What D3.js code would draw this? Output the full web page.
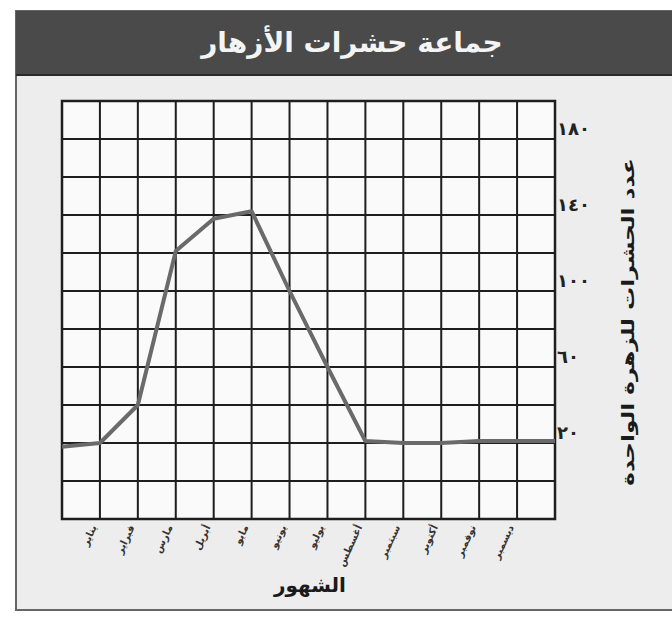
<!DOCTYPE html>
<html><head><meta charset="utf-8">
<script src="https://cdn.jsdelivr.net/npm/d3@7/dist/d3.min.js"></script>
<style>html,body{margin:0;padding:0;background:#fff;}svg{display:block;}</style>
</head><body>
<svg id="c" width="672" height="620"></svg>
<script>
const title = "جماعة حشرات الأزهار";
const yTitle = "عدد الحشرات للزهرة الواحدة";
const xTitle = "الشهور";
const points = [0,1,2,3,4,5,6,7,8,9,10,11,12,13];
const values = [18, 20, 40, 121, 138, 142, 100, 60, 21, 20, 20, 21, 21, 21];
const months = ["يناير","فبراير","مارس","أبريل","مايو","يونيو","يوليو","أغسطس","سبتمبر","أكتوبر","نوفمبر","ديسمبر"];
const yTickValues = [20, 60, 100, 140, 180];
const yTickLabels = ["٢٠","٦٠","١٠٠","١٤٠","١٨٠"];
const gridValues = [-20,0,20,40,60,80,100,120,140,160,180,200];

const svg = d3.select("#c");
const F = "'DejaVu Sans', sans-serif";

// panel
svg.append("rect").attr("x",16).attr("y",11).attr("width",670).attr("height",599)
  .attr("fill","#ededed").attr("stroke","#666").attr("stroke-width",2);
svg.append("rect").attr("x",16).attr("y",11).attr("width",670).attr("height",64)
  .attr("fill","#4a4a4a");
svg.append("line").attr("x1",16).attr("x2",672).attr("y1",75).attr("y2",75)
  .attr("stroke","#2a2a2a").attr("stroke-width",2);
svg.append("text").attr("x",352).attr("y",52).attr("text-anchor","middle")
  .attr("font-family",F).attr("font-weight","bold").attr("font-size",28)
  .attr("fill","#f4f4f4").text(title);

const x = d3.scalePoint().domain(points).range([62,555]);
const y = d3.scaleLinear().domain([-20,200]).range([519,101]);

// grid background
svg.append("rect").attr("x",62).attr("y",101).attr("width",493).attr("height",418).attr("fill","#fafafa");

const g = svg.append("g");
g.selectAll(".v").data(points).join("line")
  .attr("x1",d=>x(d)).attr("x2",d=>x(d)).attr("y1",y(200)).attr("y2",y(-20))
  .attr("stroke","#1e1e1e").attr("stroke-width",2);
g.selectAll(".h").data(gridValues).join("line")
  .attr("x1",x(0)).attr("x2",x(13)).attr("y1",d=>y(d)).attr("y2",d=>y(d))
  .attr("stroke","#1e1e1e").attr("stroke-width",2);
g.append("rect").attr("x",x(0)).attr("y",y(200)).attr("width",x(13)-x(0)).attr("height",y(-20)-y(200))
  .attr("fill","none").attr("stroke","#1e1e1e").attr("stroke-width",2.5);

// data line
const line = d3.line().x((d,i)=>x(points[i])).y(d=>y(d));
svg.append("path").datum(values).attr("d",line).attr("fill","none")
  .attr("stroke","#6a6a6a").attr("stroke-width",4).attr("stroke-linejoin","round");

// y tick labels
svg.selectAll(".yl").data(yTickValues).join("text")
  .attr("x",557).attr("y",d=>y(d)).attr("dy",-4)
  .attr("font-family",F).attr("font-weight","bold").attr("font-size",18).attr("fill","#222")
  .attr("letter-spacing",6)
  .text((d,i)=>yTickLabels[i]);

// month labels
svg.selectAll(".ml").data(months).join("text")
  .attr("transform",(d,i)=>`translate(${x(points[i+1])-3},${527}) rotate(-65)`)
  .attr("text-anchor","end")
  .attr("font-family",F).attr("font-weight","bold").attr("font-size",10).attr("fill","#333")
  .text(d=>d);

// axis titles
svg.append("text").attr("x",310).attr("y",592).attr("text-anchor","middle")
  .attr("font-family",F).attr("font-weight","bold").attr("font-size",20).attr("fill","#1a1a1a")
  .text(xTitle);
svg.append("text").attr("transform","translate(634,322) rotate(-90) scale(1.22,0.9)").attr("text-anchor","middle")
  .attr("font-family",F).attr("font-weight","bold").attr("font-size",19).attr("fill","#1a1a1a")
  .text(yTitle);
</script>
</body></html>
